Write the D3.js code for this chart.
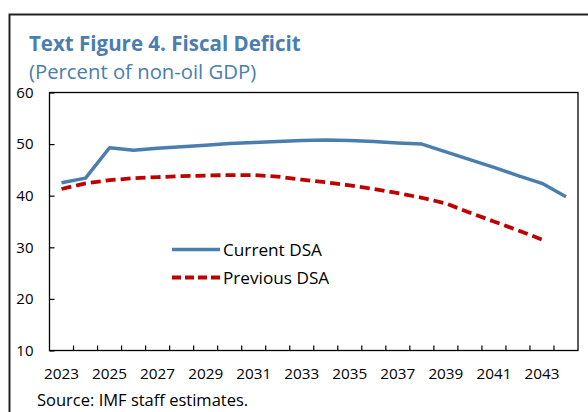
<!DOCTYPE html>
<html>
<head>
<meta charset="utf-8">
<script src="https://cdn.jsdelivr.net/npm/d3@7/dist/d3.min.js"></script>
<style>
  html, body { margin: 0; padding: 0; background: #fff; }
  svg { display: block; font-family: "Open Sans", "Noto Sans", sans-serif; }
</style>
</head>
<body>
<svg id="chart" width="588" height="412"></svg>
<script>
const years = d3.range(2023, 2045);
const currentDSA = [42.5, 43.4, 49.3, 48.8, 49.2, 49.5, 49.8, 50.1, 50.3, 50.5, 50.7, 50.8, 50.7, 50.5, 50.2, 50.0, 48.5, 47.0, 45.5, 43.9, 42.4, 39.8];
const previousDSA = [41.3, 42.4, 43.0, 43.4, 43.6, 43.8, 43.9, 44.0, 44.0, 43.7, 43.1, 42.6, 42.0, 41.3, 40.5, 39.6, 38.5, 36.7, 35.0, 33.3, 31.5, null];
const yTicks = [10, 20, 30, 40, 50, 60];
const xLabelYears = [2023, 2025, 2027, 2029, 2031, 2033, 2035, 2037, 2039, 2041, 2043];
const seriesNames = ["Current DSA", "Previous DSA"];
const titleText = "Text Figure 4. Fiscal Deficit";
const subtitleText = "(Percent of non-oil GDP)";
const sourceText = "Source: IMF staff estimates.";

const svg = d3.select("#chart");
const blue = "#4a7eae", red = "#c00000";
const L = 49.5, R = 578, T = 92.5, B = 350.5;

// outer frame
svg.append("path").attr("d", `M9.5,412 V14.5 H588`).attr("fill", "none")
  .attr("stroke", "#222").attr("stroke-width", 2);

svg.append("text").attr("x", 29).attr("y", 51).attr("fill", blue)
  .attr("font-weight", "bold").attr("font-size", 20.5).text(titleText);
svg.append("text").attr("x", 29).attr("y", 79).attr("fill", blue)
  .attr("font-size", 20.3).text(subtitleText);

const x = d3.scaleBand().domain(years).range([L, R]).padding(0);
const y = d3.scaleLinear().domain([10, 60]).range([B, T]);

// plot box
svg.append("rect").attr("x", L).attr("y", T).attr("width", R - L).attr("height", B - T)
  .attr("fill", "none").attr("stroke", "#000").attr("stroke-width", 1.3);

// y axis
const yAxis = svg.append("g").attr("transform", `translate(${L},0)`)
  .call(d3.axisLeft(y).tickValues(yTicks).tickSize(-5).tickPadding(16).tickFormat(d3.format("d")));
yAxis.select(".domain").remove();
yAxis.selectAll("line").attr("stroke", "#000").attr("stroke-width", 1.2);
yAxis.selectAll("text").attr("font-size", 15).attr("fill", "#000")
  .attr("font-family", "Open Sans, sans-serif");

// x axis tick marks at category boundaries
svg.append("g").selectAll("line").data(years.slice(1)).join("line")
  .attr("x1", d => x(d)).attr("x2", d => x(d)).attr("y1", B).attr("y2", B - 5)
  .attr("stroke", "#000").attr("stroke-width", 1.2);

const xAxis = svg.append("g").attr("transform", `translate(0,${B})`)
  .call(d3.axisBottom(x).tickValues(xLabelYears).tickSize(0).tickPadding(18));
xAxis.select(".domain").remove();
xAxis.selectAll("text").attr("font-size", 15.3).attr("fill", "#000")
  .attr("font-family", "Open Sans, sans-serif");

const cx = d => x(d) + x.bandwidth() / 2;

const line = d3.line().defined(d => d[1] != null).x(d => cx(d[0])).y(d => y(d[1]));

svg.append("path").datum(years.map((yr, i) => [yr, previousDSA[i]]))
  .attr("d", line).attr("fill", "none").attr("stroke", red).attr("stroke-width", 3.8)
  .attr("stroke-dasharray", "10,5");
svg.append("path").datum(years.map((yr, i) => [yr, currentDSA[i]]))
  .attr("d", line).attr("fill", "none").attr("stroke", blue).attr("stroke-width", 3.5)
  .attr("stroke-linejoin", "round");

// legend
const leg = [{name: seriesNames[0], color: blue, dash: null, yy: 249.5},
             {name: seriesNames[1], color: red, dash: "9,4", yy: 277.5}];
leg.forEach(l => {
  svg.append("line").attr("x1", 172).attr("x2", 220).attr("y1", l.yy).attr("y2", l.yy)
    .attr("stroke", l.color).attr("stroke-width", l.dash ? 3.8 : 3.5)
    .attr("stroke-dasharray", l.dash);
  svg.append("text").attr("x", 223).attr("y", l.yy).attr("dy", "0.35em")
    .attr("font-size", 17.2).attr("fill", "#000").text(l.name);
});

svg.append("text").attr("x", 37).attr("y", 406).attr("font-size", 16.5).attr("fill", "#000")
  .text(sourceText);
</script>
</body>
</html>
